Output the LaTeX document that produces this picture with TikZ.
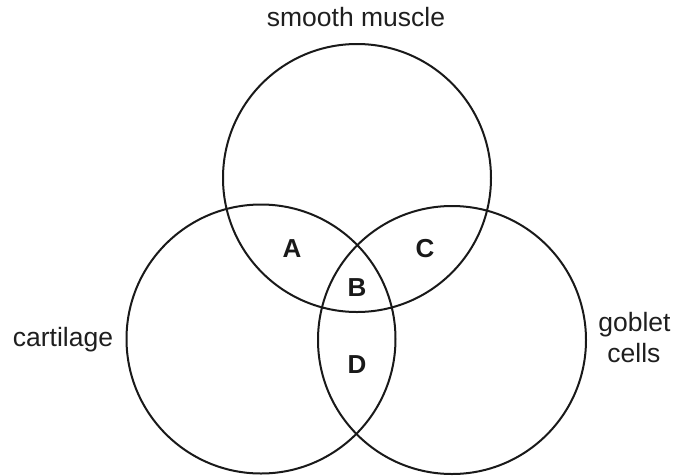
\documentclass[tikz,border=0pt]{standalone}
\usepackage{fontspec}
\setmainfont{Liberation Sans}
\begin{document}
\begin{tikzpicture}[x=1pt,y=-1pt,
  setcircle/.style={draw=black!90, line width=2pt},
  lbl/.style={font=\fontsize{26.5}{31}\selectfont, text=black!88, anchor=base, inner sep=0pt},
  region/.style={font=\fontsize{26}{31}\selectfont\bfseries, text=black!90, anchor=base, inner sep=0pt}]
\useasboundingbox (0,0) rectangle (673,475);
\node[setcircle, circle, minimum size=268pt, inner sep=0pt] (top) at (357,178) {};
\node[setcircle, circle, minimum size=269pt, inner sep=0pt] (left) at (261,339) {};
\node[setcircle, circle, minimum size=268pt, inner sep=0pt] (right) at (452,340) {};
\node[lbl] (tsm) at (356,26.5) {smooth muscle};
\node[lbl] (tcart) at (63,346) {cartilage};
\node[lbl] (tgob) at (634.5,331.5) {goblet};
\node[lbl] (tcells) at (634,362.5) {cells};
\node[region] (ra) at (292,257.5) {A};
\node[region] (rb) at (357,296.5) {B};
\node[region] (rc) at (425,257.5) {C};
\node[region] (rd) at (357,373) {D};
\end{tikzpicture}
\end{document}
